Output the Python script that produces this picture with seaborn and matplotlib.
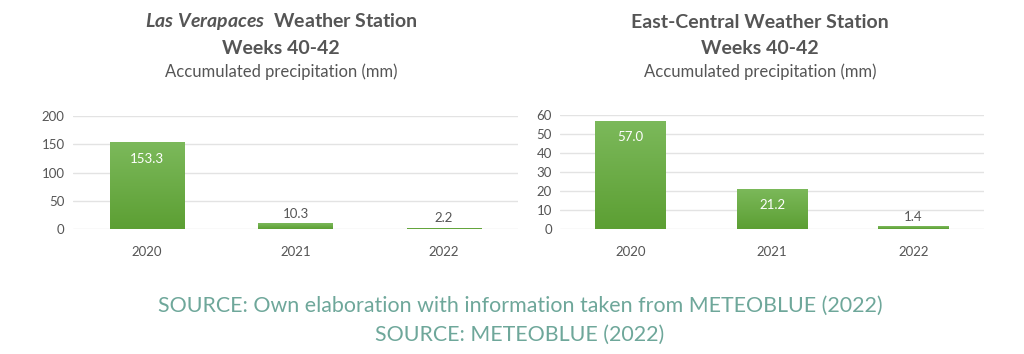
import numpy as np
import pandas as pd
import matplotlib
matplotlib.use('Agg')
import matplotlib.pyplot as plt
from matplotlib.colors import LinearSegmentedColormap
import seaborn as sns

# Data
years = ['2020', '2021', '2022']
verapaces_mm = [153.3, 10.3, 2.2]
east_central_mm = [57.0, 21.2, 1.4]

left_title = r'$\it{Las\ Verapaces}$  Weather Station'
right_title = 'East-Central Weather Station'
weeks_label = 'Weeks 40-42'
subtitle = 'Accumulated precipitation (mm)'
source_lines = ['SOURCE: Own elaboration with information taken from METEOBLUE (2022)',
                'SOURCE: METEOBLUE (2022)']

sns.set_theme(style='white')
plt.rcParams['font.family'] = ['Lato', 'DejaVu Sans']
plt.rcParams['mathtext.fontset'] = 'custom'
plt.rcParams['mathtext.it'] = 'Lato:italic:bold'
plt.rcParams['mathtext.rm'] = 'Lato:bold'

text_grey = '#555555'
bar_green = '#6aae44'
grid_grey = '#e3e3e3'
green_grad = LinearSegmentedColormap.from_list('g', ['#5c9f33', '#7cb95b'])

fig = plt.figure(figsize=(10.24, 3.54), dpi=100)
ax_l = fig.add_axes([0.0713, 0.353, 0.4346, 0.319])
ax_r = fig.add_axes([0.547, 0.353, 0.414, 0.322])


def draw_panel(ax, values, ymax, step, inside_min):
    df = pd.DataFrame({'year': years, 'mm': values})
    sns.barplot(data=df, x='year', y='mm', ax=ax, color=bar_green,
                width=0.5, saturation=1, edgecolor='none')
    ax.set_ylim(0, ymax)
    ax.set_yticks(np.arange(0, ymax + 1, step))
    ax.set_xlim(-0.5, 2.5)
    ax.set_xlabel('')
    ax.set_ylabel('')
    ax.grid(axis='y', color=grid_grey, linewidth=1)
    ax.set_axisbelow(True)
    for s in ax.spines.values():
        s.set_visible(False)
    ax.tick_params(axis='both', length=0, labelsize=9.5, colors=text_grey)
    ax.tick_params(axis='x', pad=12)
    ax.tick_params(axis='y', pad=6)

    # vertical gradient fill on each bar
    grad = np.linspace(0, 1, 256).reshape(-1, 1)
    for patch in ax.patches:
        x0, y0 = patch.get_x(), patch.get_y()
        w, h = patch.get_width(), patch.get_height()
        im = ax.imshow(grad, cmap=green_grad, origin='lower', aspect='auto',
                       extent=[x0, x0 + w, y0, y0 + h], zorder=patch.get_zorder())
        im.set_clip_path(patch)
    ax.set_xlim(-0.5, 2.5)
    ax.set_ylim(0, ymax)

    for i, v in enumerate(values):
        if v >= inside_min:
            ax.annotate(f'{v:.1f}', xy=(i, v), xytext=(0, -12),
                        textcoords='offset points', ha='center', va='center',
                        color='white', fontsize=9.5, zorder=5)
        else:
            ax.annotate(f'{v:.1f}', xy=(i, v), xytext=(0, 7),
                        textcoords='offset points', ha='center', va='center',
                        color=text_grey, fontsize=9.5, zorder=5)


draw_panel(ax_l, verapaces_mm, 200, 50, 20)
draw_panel(ax_r, east_central_mm, 60, 10, 5)

for cx, title in [(281, left_title), (760, right_title)]:
    x = cx / 1024
    fig.text(x, 1 - 22 / 354, title, ha='center', va='center',
             fontsize=14, fontweight='bold', color=text_grey)
    fig.text(x, 1 - 48 / 354, weeks_label, ha='center', va='center',
             fontsize=14, fontweight='bold', color=text_grey)
    fig.text(x, 1 - 72 / 354, subtitle, ha='center', va='center',
             fontsize=12, color=text_grey)

src_color = '#6ea79a'
fig.text(520 / 1024, 1 - 306 / 354, source_lines[0], ha='center', va='center',
         fontsize=15.4, color=src_color)
fig.text(520 / 1024, 1 - 335 / 354, source_lines[1], ha='center', va='center',
         fontsize=15.4, color=src_color)

fig.savefig('out.png', dpi=100)
